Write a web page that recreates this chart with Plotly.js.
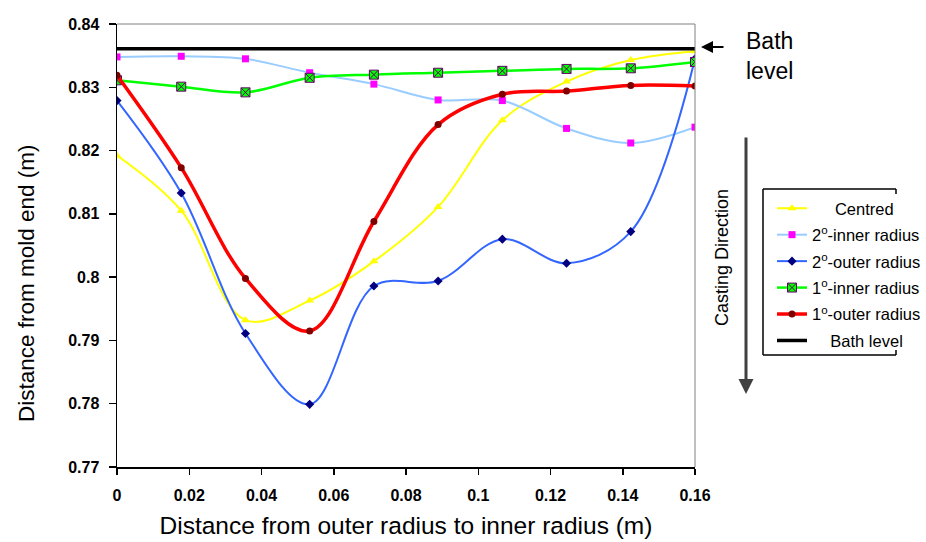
<!DOCTYPE html>
<html>
<head>
<meta charset="utf-8">
<script src="https://cdn.plot.ly/plotly-3.0.1.min.js"></script>
<style>
html,body{margin:0;padding:0;background:#fff;}
#chart{width:926px;height:542px;}
</style>
</head>
<body>
<div id="chart"></div>
<script>
// Radial positions (m)
const xPos = [0, 0.01778, 0.03556, 0.05333, 0.07111, 0.08889, 0.10667, 0.12444, 0.14222, 0.16];

// Series values (m from mold end)
const centred      = [0.8192, 0.8105, 0.7932, 0.7963, 0.8025, 0.8111, 0.8248, 0.8309, 0.8343, 0.8357];
const inner2       = [0.8348, 0.8349, 0.8345, 0.8323, 0.8305, 0.8280, 0.8279, 0.8235, 0.8212, 0.8237];
const outer2       = [0.8279, 0.8133, 0.7911, 0.7799, 0.7986, 0.7994, 0.8060, 0.8022, 0.8072, 0.8345];
const inner1       = [0.8311, 0.8301, 0.8292, 0.8315, 0.8320, 0.8323, 0.8326, 0.8329, 0.8330, 0.8340];
const outer1       = [0.8319, 0.8173, 0.7998, 0.7915, 0.8088, 0.8241, 0.8289, 0.8294, 0.8303, 0.8302];
const bathX        = [0, 0.16];
const bathY        = [0.8361, 0.8361];

const seriesNames = ["Centred", "2<sup>o</sup>-inner radius", "2<sup>o</sup>-outer radius", "1<sup>o</sup>-inner radius", "1<sup>o</sup>-outer radius", "Bath level"];

const xTickVals  = [0, 0.02, 0.04, 0.06, 0.08, 0.1, 0.12, 0.14, 0.16];
const xTickText  = ["0", "0.02", "0.04", "0.06", "0.08", "0.1", "0.12", "0.14", "0.16"];
const yTickVals  = [0.77, 0.78, 0.79, 0.8, 0.81, 0.82, 0.83, 0.84];
const yTickText  = ["0.77", "0.78", "0.79", "0.8", "0.81", "0.82", "0.83", "0.84"];

// legend labels are centred in the reference: pad short names with no-break spaces
const pad = (s, n) => "\u00a0".repeat(n) + s;

const traces = [
  {x: xPos, y: centred, name: pad(seriesNames[0], 5), legendgroup: "a", mode: "lines+markers",
   line: {color: "#ffff00", width: 2, shape: "spline", smoothing: 1},
   marker: {symbol: "triangle-up", size: 8, color: "#ffff00"}},
  {x: xPos, y: inner2, name: seriesNames[1], legendgroup: "b", mode: "lines+markers",
   line: {color: "#99ccff", width: 2, shape: "spline", smoothing: 1},
   marker: {symbol: "square", size: 7, color: "#ff00ff"}},
  {x: xPos, y: outer2, name: seriesNames[2], legendgroup: "c", mode: "lines+markers",
   line: {color: "#3366ff", width: 2, shape: "spline", smoothing: 1},
   marker: {symbol: "diamond", size: 7, color: "#000080"}},
  {x: xPos, y: inner1, name: seriesNames[3], legendgroup: "d", mode: "lines+markers",
   line: {color: "#00ff00", width: 2.5, shape: "spline", smoothing: 1},
   marker: {symbol: "square-x", size: 9, color: "#00ff00", line: {color: "#660066", width: 1}}},
  {x: xPos, y: outer1, name: seriesNames[4], legendgroup: "e", mode: "lines+markers",
   line: {color: "#ff0000", width: 3.5, shape: "spline", smoothing: 1},
   marker: {symbol: "circle", size: 7, color: "#800000"}},
  {x: bathX, y: bathY, name: pad(seriesNames[5], 4), legendgroup: "f", mode: "lines",
   line: {color: "#000000", width: 3.5}}
];

const W = 926, H = 542, L = 117, R = 695, T = 24, B = 467;
const px = v => (v - L) / (R - L);
const py = v => (B - v) / (B - T);

const FAM = "Liberation Sans, Arial, sans-serif";
const tickFont = {family: FAM, size: 16, color: "#000", weight: "bold"};
const boxLine = {color: "#000", width: 1.5};

const layout = {
  width: W, height: H,
  margin: {l: L, r: W - R, t: T, b: H - B, pad: 0, autoexpand: false},
  paper_bgcolor: "#fff", plot_bgcolor: "#fff",
  showlegend: true,
  legend: {x: px(772), y: py(191), xanchor: "left", yanchor: "top",
           font: {family: FAM, size: 16.5, color: "#000"},
           bgcolor: "rgba(0,0,0,0)", borderwidth: 0, tracegroupgap: 2, itemwidth: 30},
  xaxis: {range: [0, 0.16], tickvals: xTickVals, ticktext: xTickText,
          showgrid: false, zeroline: false, showline: true, linecolor: "#000", linewidth: 1.5,
          ticks: "outside", ticklen: 6, tickwidth: 1.5, tickcolor: "#000",
          tickfont: tickFont, ticklabelstandoff: 7,
          title: {text: "Distance from outer radius to inner radius (m)",
                  font: {family: FAM, size: 24.5, color: "#000"}, standoff: 14}},
  yaxis: {range: [0.77, 0.84], tickvals: yTickVals, ticktext: yTickText,
          showgrid: false, zeroline: false, showline: true, linecolor: "#000", linewidth: 1.5,
          ticks: "outside", ticklen: 7, tickwidth: 1.5, tickcolor: "#000",
          tickfont: tickFont, ticklabelstandoff: 6},
  shapes: [
    {type: "line", xref: "paper", yref: "paper", x0: 0, x1: 1, y0: 1, y1: 1, line: {color: "#808080", width: 1}},
    {type: "line", xref: "paper", yref: "paper", x0: 1, x1: 1, y0: 0, y1: 1, line: {color: "#808080", width: 1}},
    // legend frame: the labels run over its right side, so only stubs of that side show
    {type: "line", xref: "paper", yref: "paper", x0: px(763), x1: px(763), y0: py(355), y1: py(189), line: boxLine},
    {type: "line", xref: "paper", yref: "paper", x0: px(763), x1: px(896), y0: py(189), y1: py(189), line: boxLine},
    {type: "line", xref: "paper", yref: "paper", x0: px(763), x1: px(896), y0: py(355), y1: py(355), line: boxLine},
    {type: "line", xref: "paper", yref: "paper", x0: px(896), x1: px(896), y0: py(189), y1: py(194), line: boxLine},
    {type: "line", xref: "paper", yref: "paper", x0: px(896), x1: px(896), y0: py(350), y1: py(355), line: boxLine}
  ],
  annotations: [
    {xref: "paper", yref: "paper", x: px(26), y: py(283), xanchor: "center", yanchor: "middle",
     text: "Distance from mold end (m)", showarrow: false, textangle: -90,
     font: {family: FAM, size: 22.5, color: "#000"}},
    {xref: "paper", yref: "paper", x: px(744), y: py(26), xanchor: "left", yanchor: "top", align: "left",
     text: "Bath<br>level", showarrow: false, font: {family: FAM, size: 23, color: "#000"}},
    {xref: "paper", yref: "paper", x: px(701), y: py(47), text: "", showarrow: true,
     axref: "pixel", ayref: "pixel", ax: 24, ay: 0, arrowhead: 2, arrowsize: 1.2, arrowwidth: 2, arrowcolor: "#000"},
    {xref: "paper", yref: "paper", x: px(746), y: py(394), text: "", showarrow: true,
     axref: "pixel", ayref: "pixel", ax: 0, ay: -258, arrowhead: 2, arrowsize: 1, arrowwidth: 3, arrowcolor: "#404040"},
    {xref: "paper", yref: "paper", x: px(722), y: py(258), xanchor: "center", yanchor: "middle",
     text: "Casting Direction", showarrow: false,
     textangle: -90, font: {family: FAM, size: 18, color: "#000"}}
  ]
};

Plotly.newPlot("chart", traces, layout, {displayModeBar: false, staticPlot: true});
</script>
</body>
</html>
